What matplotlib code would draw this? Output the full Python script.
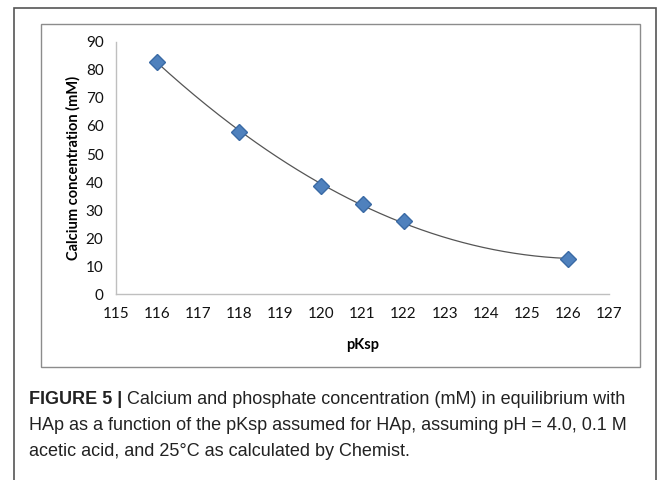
import numpy as np
import matplotlib.pyplot as plt
from matplotlib.patches import Rectangle

# data
pksp = np.array([116, 118, 120, 121, 122, 126])
calcium = np.array([83, 58, 38.5, 32, 26, 12.5])
x_ticks = list(range(115, 128))
y_ticks = list(range(0, 91, 10))

caption_bold = "FIGURE 5 |"
caption_lines = [
    " Calcium and phosphate concentration (mM) in equilibrium with",
    "HAp as a function of the pKsp assumed for HAp, assuming pH = 4.0, 0.1 M",
    "acetic acid, and 25\u00b0C as calculated by Chemist.",
]

fig = plt.figure(figsize=(6.7, 4.8), dpi=100)

# outer frame and chart frame
fig.patches.append(Rectangle((14 / 670, -0.05), 642 / 670, 1.05 - 8 / 480,
                             transform=fig.transFigure, fill=False,
                             edgecolor='#555555', lw=1.2))
fig.patches.append(Rectangle((41 / 670, 113 / 480), 599 / 670, 343 / 480,
                             transform=fig.transFigure, fill=False,
                             edgecolor='#8c8c8c', lw=1.0))

ax = fig.add_axes([116 / 670, 186 / 480, 493 / 670, 252 / 480])

# second order trend line like the excel one
coef = np.polyfit(pksp, calcium, 2)
xs = np.linspace(pksp.min(), pksp.max(), 200)
ax.plot(xs, np.polyval(coef, xs), color='#555555', lw=0.9)
ax.plot(pksp, calcium, 'D', color='#4F81BD', markeredgecolor='#3a6aa5',
        markersize=8.5)

ax.set_xlim(115, 127)
ax.set_ylim(0, 90)
ax.set_xticks(x_ticks)
ax.set_yticks(y_ticks)
for s in ['top', 'right']:
    ax.spines[s].set_visible(False)
for s in ['left', 'bottom']:
    ax.spines[s].set_color('#bfbfbf')
    ax.spines[s].set_linewidth(1.0)
ax.tick_params(length=0, labelsize=11, pad=9)
for lab in ax.get_xticklabels() + ax.get_yticklabels():
    lab.set_family('Lato')
    lab.set_color('#111111')

fig.text(363 / 670, 1 - 345 / 480, 'pKsp', family='Lato', weight='bold',
         fontsize=10.5, ha='center', va='center')
fig.text(73 / 670, 1 - 168 / 480, 'Calcium concentration (mM)', family='Lato',
         weight='bold', fontsize=10.5, ha='center', va='center', rotation=90)

# caption
t = fig.text(29 / 670, 1 - 400 / 480, caption_bold, family='Liberation Sans',
             weight='bold', fontsize=13, va='center', color='#222222')
fig.canvas.draw()
bb = t.get_window_extent()
fig.text(bb.x1 / 670, 1 - 400 / 480, caption_lines[0], family='Liberation Sans',
         fontsize=13, va='center', color='#222222')
fig.text(29 / 670, 1 - 426 / 480, caption_lines[1], family='Liberation Sans',
         fontsize=13, va='center', color='#222222')
fig.text(29 / 670, 1 - 452 / 480, caption_lines[2], family='Liberation Sans',
         fontsize=13, va='center', color='#222222')

fig.savefig('out.png', dpi=100)
